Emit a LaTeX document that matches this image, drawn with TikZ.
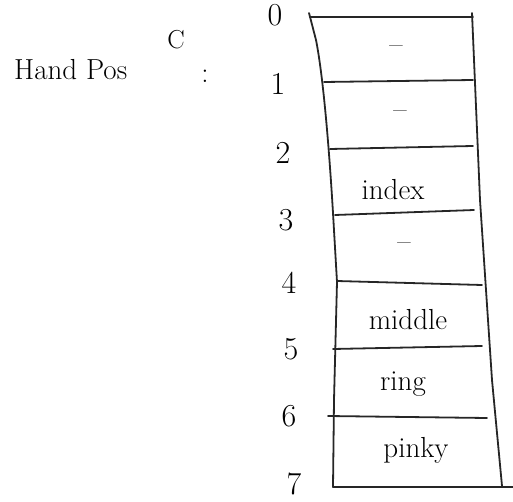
\documentclass[tikz,border=0pt]{standalone}
\usepackage{tikz}
\usetikzlibrary{positioning}

\tikzset{
  pen/.style={line width=1.8pt, line cap=round, line join=round, black!85},
  hand/.style={font=\fontsize{29}{31}\selectfont, inner sep=0pt},
  slot/.style={font=\fontsize{29}{31}\selectfont, inner sep=0pt},
  rownum/.style={font=\fontsize{32}{34}\selectfont, inner sep=0pt}
}

\begin{document}
\begin{tikzpicture}[x=1pt,y=-1pt]
\useasboundingbox (0,0) rectangle (513,502);

% title
\node[hand,anchor=west] (title) at (14,70) {Hand Pos};
\node[hand,font=\fontsize{26}{28}\selectfont] (cc) at (176,40) {C};
\node[hand] (colon) at (205,76) {:};

% outer edges
\draw[pen] (309,13) -- (316,40) .. controls (322,70) and (328,130) .. (333,213) -- (337,282) -- (334,400) -- (333,487);
\draw[pen] (472,13) -- (480,200) -- (492,380) -- (502,486);

% row lines
\draw[pen] (310,17) -- (473,17);
\draw[pen] (324,82) -- (473,80);
\draw[pen] (330,149) -- (473,146);
\draw[pen] (335,215) -- (474,210);
\draw[pen] (337,281) -- (482,285);
\draw[pen] (333,349) -- (482,346);
\draw[pen] (328,416) -- (487,418);
\draw[pen] (333,487) -- (513,487);

% row numbers
\foreach \n/\x/\y in {0/275/15, 1/278/84, 2/283/153, 3/286/220, 4/289/283, 5/291/349, 6/289/416, 7/294/484}
  \node[rownum] (n\n) at (\x,\y) {\n};

% slots
\node[slot] (s1) at (396,50) {--};
\node[slot] (s2) at (400,115) {--};
\node[slot] (s3) at (393,190) {index};
\node[slot] (s4) at (404,247) {--};
\node[slot] (s5) at (408,320) {middle};
\node[slot] (s6) at (403,384) {ring};
\node[slot] (s7) at (416,450) {pinky};
\end{tikzpicture}
\end{document}
